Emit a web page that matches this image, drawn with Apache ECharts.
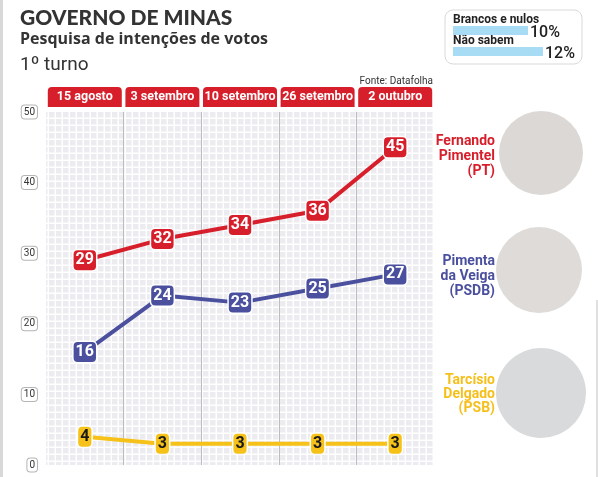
<!DOCTYPE html>
<html>
<head>
<meta charset="utf-8">
<script src="https://cdn.jsdelivr.net/npm/echarts@6/dist/echarts.min.js"></script>
<style>
html,body{margin:0;padding:0;background:#fff;}
#c{width:598px;height:477px;}
</style>
</head>
<body>
<div id="c"></div>
<script>
// ---- data ----
var categories = ['15 agosto', '3 setembro', '10 setembro', '26 setembro', '2 outubro'];
var pimentel = [29, 32, 34, 36, 45];
var pimenta = [16, 24, 23, 25, 27];
var tarcisio = [4, 3, 3, 3, 3];
var yTicks = [0, 10, 20, 30, 40, 50];
var otherLabels = ['Brancos e nulos', 'Não sabem'];
var otherValues = [10, 12];

var COND = 'Roboto, sans-serif';
var RED = '#d71f2b', BLUE = '#4a509e', YEL = '#f6c21a';

// dotted background pattern
var pc = document.createElement('canvas');
pc.width = 7; pc.height = 7;
var pctx = pc.getContext('2d');
pctx.fillStyle = '#ffffff'; pctx.fillRect(0, 0, 7, 7);
pctx.fillStyle = '#ececf0'; pctx.fillRect(0, 0, 5.5, 5.5);

function lineSeries(name, data, color, textColor) {
  return {
    name: name, type: 'line', data: data, xAxisIndex: 0, yAxisIndex: 0,
    symbol: 'circle', symbolSize: 2, z: 5,
    lineStyle: { color: color, width: 4 },
    itemStyle: { color: color },
    label: {
      show: true, position: 'inside', formatter: '{c}',
      backgroundColor: color, borderColor: '#fff', borderWidth: 1.5, borderRadius: 4,
      padding: [3, 2, 1, 2], color: textColor, fontFamily: COND, fontWeight: 'bold', fontSize: 16
    }
  };
}

var chart = echarts.init(document.getElementById('c'), null, { renderer: 'canvas' });
chart.setOption({
  backgroundColor: '#fff',
  animation: false,
  grid: [
    { left: 46, right: 164, top: 112, bottom: 12, show: true, borderWidth: 0,
      backgroundColor: { image: pc, repeat: 'repeat' } },
    { left: 453, top: 20, width: 120, height: 42 }
  ],
  xAxis: [
    { type: 'category', data: categories, position: 'top', gridIndex: 0, boundaryGap: true,
      axisLine: { show: false }, axisTick: { show: false },
      splitLine: { show: true, lineStyle: { color: ['rgba(0,0,0,0)', '#bdbdbd', '#bdbdbd', '#bdbdbd', '#bdbdbd'], width: 1 } },
      axisLabel: { interval: 0, margin: 5, color: '#fff', backgroundColor: RED, width: 74, height: 20, lineHeight: 20,
        align: 'center', borderRadius: [4, 4, 0, 0], fontFamily: COND, fontSize: 12.5, fontWeight: 'bold' } },
    { type: 'value', gridIndex: 1, min: 0, max: 16, show: false }
  ],
  yAxis: [
    { type: 'value', gridIndex: 0, min: 0, max: 50, interval: 10,
      axisLine: { show: false }, axisTick: { show: false }, splitLine: { show: false },
      axisLabel: { margin: 9, color: '#333', fontSize: 10, fontFamily: COND, backgroundColor: '#fff',
        borderColor: '#b5b5b5', borderWidth: 1, borderRadius: 3, padding: [2, 2, 1, 2],
        formatter: function (v) { return yTicks.indexOf(v) >= 0 ? String(v) : ''; } } },
    { type: 'category', gridIndex: 1, data: otherLabels, inverse: true,
      axisLine: { show: false }, axisTick: { show: false },
      axisLabel: { inside: true, margin: 0, align: 'left', verticalAlign: 'bottom', padding: [0, 0, 5, 0],
        color: '#222', fontFamily: COND, fontWeight: 'bold', fontSize: 12 } }
  ],
  series: [
    lineSeries('Fernando Pimentel (PT)', pimentel, RED, '#fff'),
    lineSeries('Pimenta da Veiga (PSDB)', pimenta, BLUE, '#fff'),
    lineSeries('Tarcísio Delgado (PSB)', tarcisio, YEL, '#1a1a1a'),
    { type: 'bar', xAxisIndex: 1, yAxisIndex: 1, data: otherValues, barWidth: 9,
      itemStyle: { color: '#a8dcf4' },
      label: { show: true, position: 'right', distance: 2, offset: [0, 2], formatter: '{c}%',
        color: '#222', fontFamily: COND, fontSize: 16, fontWeight: 500 } }
  ],
  graphic: [
    { type: 'circle', z: -10, shape: { cx: 541, cy: 153, r: 42 }, style: { fill: '#dcd8d5' } },
    { type: 'circle', z: -10, shape: { cx: 539, cy: 270, r: 43 }, style: { fill: '#dedbd9' } },
    { type: 'circle', z: -10, shape: { cx: 541, cy: 393, r: 45 }, style: { fill: '#d8dadb' } },
    { type: 'rect', shape: { x: 0, y: 0, width: 3, height: 477 }, style: { fill: '#d8d8d8' } },
    { type: 'rect', shape: { x: 596, y: 300, width: 2, height: 177 }, style: { fill: '#e0e0e0' } },
    { type: 'rect', shape: { x: 445, y: 10, width: 137, height: 54, r: 8 }, style: { fill: 'none', stroke: '#d9d9d9', lineWidth: 1 }, z: -1 },
    { type: 'text', x: 20, y: 8, style: { text: 'GOVERNO DE MINAS', fill: '#333', font: '900 21px Lato, Roboto, sans-serif' } },
    { type: 'text', x: 20, y: 31, style: { text: 'Pesquisa de intenções de votos', fill: '#333', font: 'bold 16px "Open Sans", Roboto, sans-serif' } },
    { type: 'text', x: 20, y: 56, style: { text: '1º turno', fill: '#333', font: '19px Roboto, sans-serif' } },
    { type: 'text', x: 433, y: 76, style: { text: 'Fonte: Datafolha', fill: '#333', align: 'right', font: '10px Roboto, sans-serif' } },
    { type: 'text', x: 495, y: 134, style: { text: 'Fernando\nPimentel\n(PT)', fill: RED, align: 'right', lineHeight: 15, font: 'bold 14px ' + COND } },
    { type: 'text', x: 495, y: 254, style: { text: 'Pimenta\nda Veiga\n(PSDB)', fill: BLUE, align: 'right', lineHeight: 15, font: 'bold 14px ' + COND } },
    { type: 'text', x: 495, y: 373, style: { text: 'Tarcísio\nDelgado\n(PSB)', fill: '#f5c01c', align: 'right', lineHeight: 14, font: 'bold 14px ' + COND } }
  ]
});
</script>
</body>
</html>
